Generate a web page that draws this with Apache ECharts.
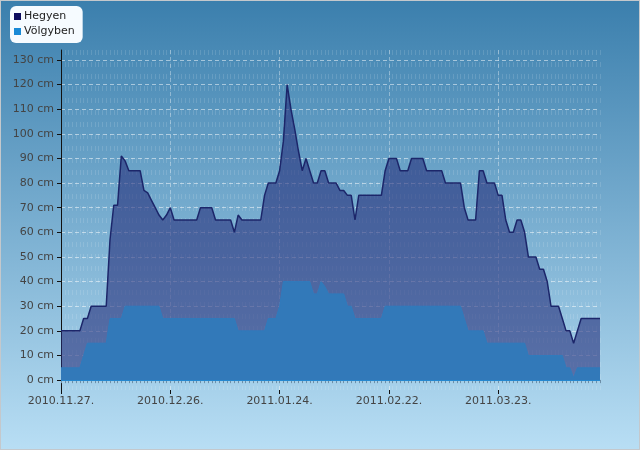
<!DOCTYPE html>
<html>
<head>
<meta charset="utf-8">
<script src="https://cdn.jsdelivr.net/npm/echarts@6/dist/echarts.min.js"></script>
<style>
  html, body { margin: 0; padding: 0; background: #fff; }
  #hohatar { width: 638px; height: 448px; border: 1px solid #c4c8cc; }
</style>
</head>
<body>
<div id="hohatar"></div>
<script>
(function(){
    'use strict';

    // adatok: kezdonap + napok szama (napi meresek)
    var startDay = [2010, 10, 27];
    var dayCount = 144;

    // hoszint a hegyen (cm)
    var hegyen = [
        20,20,20,20,20,20, 25,25, 30,30,30,30,30, 57, 71,71, 91, 89, 85,85,85,85,
        77, 76, 73, 70, 67, 65, 67, 70,
        65,65,65,65,65,65,65, 70,70,70,70, 65,65,65,65,65, 60, 67, 65,65,65,65,65,65,
        75, 80,80,80, 85, 97, 120, 110, 102, 93, 85, 90, 85, 80, 80, 85, 85,
        80,80,80, 77,77, 75,75, 65, 75,75,75,75,75,75,75,
        85, 90,90,90, 85,85,85, 90,90,90,90, 85,85,85,85,85, 80,80,80,80,80,
        70, 65,65,65, 85,85, 80,80,80, 75,75, 65, 60,60, 65,65, 60,
        50,50,50, 45,45, 40, 30,30,30, 25, 20,20, 15, 20, 25,25,25,25,25,25
    ];

    // hoszint a volgyben (cm)
    var volgyben = [
        5,5,5,5,5,5, 10, 15,15,15,15,15,15, 25,25,25,25,
        30,30,30,30,30,30,30,30,30,30,
        25,25,25,25,25,25,25,25,25,25,25,25,25,25,25,25,25,25,25,25,
        20,20,20,20,20,20,20,20, 25,25,25, 30,
        40,40,40,40,40,40,40,40, 35,35, 40, 38, 35,35,35,35,35, 30,30,
        25,25,25,25,25,25,25,25,
        30,30,30,30,30,30,30,30,30,30,30,30,30,30,30,30,30,30,30,30,30,
        25, 20,20,20,20,20,
        15,15,15,15,15,15,15,15,15,15,15,
        10,10,10,10,10,10,10,10,10,10, 5,5, 1, 5,5,5,5,5,5,5
    ];

    var yTicks = [0,10,20,30,40,50,60,70,80,90,100,110,120,130];

    function pad(n){ return n < 10 ? '0' + n : '' + n; }
    var dates = [];
    for (var i = 0; i < dayCount; i++) {
        var d = new Date(startDay[0], startDay[1], startDay[2] + i);
        dates.push(d.getFullYear() + '.' + pad(d.getMonth() + 1) + '.' + pad(d.getDate()) + '.');
    }

    var myChart = echarts.init(document.getElementById('hohatar'));

    var labelFont = { color: '#444', fontSize: 11, fontFamily: 'DejaVu Sans' };

    var option = {
        animation: false,
        backgroundColor: {
            type: 'linear', x: 0, y: 0, x2: 0, y2: 1,
            colorStops: [
                { offset: 0, color: '#3b7fad' },
                { offset: 1, color: '#b8def4' }
            ]
        },
        legend: {
            orient: 'vertical',
            left: 9,
            top: 5,
            padding: [5, 8, 6, 4],
            itemGap: 4,
            itemWidth: 7,
            itemHeight: 7,
            backgroundColor: '#f6fbff',
            borderRadius: 6,
            icon: 'rect',
            textStyle: { color: '#222', fontSize: 11, fontFamily: 'DejaVu Sans', padding: [0, 0, 0, -2] },
            data: [
                { name: 'Hegyen', itemStyle: { color: '#0c0c5e' } },
                { name: 'Völgyben', itemStyle: { color: '#1a8ad6' } }
            ]
        },
        grid: { left: 60, right: 39, top: 49, bottom: 59 },
        xAxis: [
            {
                type: 'category',
                boundaryGap: false,
                data: dates,
                axisLine: { lineStyle: { color: '#111', width: 1 } },
                axisTick: { interval: 0, length: 3, lineStyle: { color: '#6d8fa8' } },
                axisLabel: Object.assign({ interval: 28, margin: 6 }, labelFont),
                splitLine: {
                    show: true, interval: 0,
                    lineStyle: { color: 'rgba(255,255,255,0.13)', type: [5, 7], width: 1 }
                }
            },
            {
                type: 'category',
                boundaryGap: false,
                data: dates,
                position: 'bottom',
                axisLine: { show: false },
                axisTick: { interval: 28, length: 4, lineStyle: { color: '#111' } },
                axisLabel: { show: false },
                splitLine: {
                    show: true, interval: 28,
                    lineStyle: { color: 'rgba(255,255,255,0.35)', type: [4, 3], width: 1 }
                }
            }
        ],
        yAxis: {
            type: 'value',
            min: -4,
            max: 134,
            axisLine: { show: true, lineStyle: { color: '#111' } },
            axisTick: { show: true, length: 4, customValues: yTicks, lineStyle: { color: '#111' } },
            axisLabel: Object.assign({ customValues: yTicks, formatter: '{value} cm', margin: 7 }, labelFont),
            splitLine: {
                show: true,
                customValues: yTicks,
                lineStyle: { color: 'rgba(255,255,255,0.5)', type: [4, 3], width: 1 }
            }
        },
        series: [
            {
                name: 'Hegyen',
                type: 'line',
                data: hegyen,
                symbol: 'none',
                lineStyle: { color: '#1c266a', width: 1.5 },
                itemStyle: { color: '#0c0c5e' },
                areaStyle: { color: 'rgba(36,44,120,0.84)', origin: 'auto' },
                z: 2
            },
            {
                name: 'Völgyben',
                type: 'line',
                data: volgyben,
                symbol: 'none',
                lineStyle: { color: '#2f7bbd', width: 1 },
                itemStyle: { color: '#1a8ad6' },
                areaStyle: { color: '#3279b9', opacity: 1, origin: 'auto' },
                markLine: {
                    silent: true,
                    symbol: 'none',
                    label: { show: false },
                    lineStyle: { color: '#2588d0', type: 'solid', width: 1 },
                    data: [{ yAxis: 0 }]
                },
                z: 3
            }
        ]
    };

    myChart.setOption(option);
}());
</script>
</body>
</html>
